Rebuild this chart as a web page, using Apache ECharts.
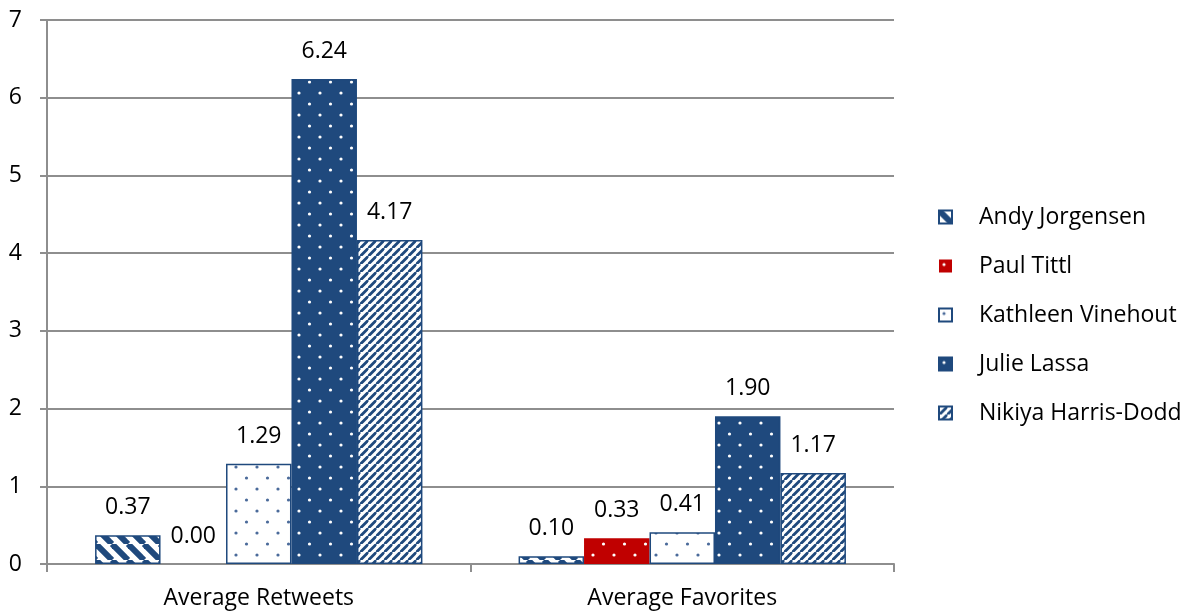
<!DOCTYPE html>
<html>
<head>
<meta charset="utf-8">
<script src="https://cdn.jsdelivr.net/npm/echarts@6/dist/echarts.min.js"></script>
<style>
  html, body { margin: 0; padding: 0; background: #fff; }
  #chart { width: 1188px; height: 611px; }
</style>
</head>
<body>
<div id="chart"></div>
<script>
// Tweet engagement per candidate
const categories = ['Average Retweets', 'Average Favorites'];
const candidates = ['Andy Jorgensen', 'Paul Tittl', 'Kathleen Vinehout', 'Julie Lassa', 'Nikiya Harris-Dodd'];
const andyJorgensen = [0.37, 0.10];
const paulTittl = [0.00, 0.33];
const kathleenVinehout = [1.29, 0.41];
const julieLassa = [6.24, 1.90];
const nikiyaHarrisDodd = [4.17, 1.17];
const yTicks = [0, 1, 2, 3, 4, 5, 6, 7];

const BLUE = '#1F497D';
const RED = '#C00000';
const FONT = 'Open Sans';

// Diagonal stripe tile: dir 'down' = "\\", 'up' = "//"
function stripes(period, lineW, fg, bg, dir) {
  const c = document.createElement('canvas');
  c.width = period; c.height = period;
  const g = c.getContext('2d');
  g.fillStyle = bg; g.fillRect(0, 0, period, period);
  g.strokeStyle = fg; g.lineWidth = lineW;
  for (let k = -1; k <= 1; k++) {
    g.beginPath();
    if (dir === 'down') { g.moveTo(k * period, 0); g.lineTo(k * period + period, period); }
    else { g.moveTo(k * period, period); g.lineTo(k * period + period, 0); }
    g.stroke();
  }
  return { image: c, repeat: 'repeat' };
}

// Staggered dot tile
function dots(fg, bg, r) {
  const w = 21, h = 22;
  const c = document.createElement('canvas');
  c.width = w; c.height = h;
  const g = c.getContext('2d');
  g.fillStyle = bg; g.fillRect(0, 0, w, h);
  g.fillStyle = fg;
  [[5, 5], [15.5, 16]].forEach(([x, y]) => {
    g.beginPath(); g.arc(x, y, r, 0, Math.PI * 2); g.fill();
  });
  return { image: c, repeat: 'repeat' };
}

const fills = [
  stripes(16, 6, BLUE, '#ffffff', 'down'),
  dots('#ffffff', RED, 1.6),
  dots('#4a6a9a', '#ffffff', 1.6),
  dots('#ffffff', BLUE, 1.6),
  stripes(8.5, 2.8, BLUE, '#ffffff', 'up')
];
const seriesData = [andyJorgensen, paulTittl, kathleenVinehout, julieLassa, nikiyaHarrisDodd];

const chart = echarts.init(document.getElementById('chart'), null, { renderer: 'canvas' });

chart.setOption({
  animation: false,
  backgroundColor: '#ffffff',
  textStyle: { fontFamily: FONT },
  grid: { left: 47, right: 294, top: 20, bottom: 47, containLabel: false },
  legend: {
    orient: 'vertical',
    left: 933,
    top: 197,
    itemWidth: 13,
    itemHeight: 13,
    itemGap: 19,
    icon: 'rect',
    data: candidates,
    formatter: name => '{s|}' + name,
    textStyle: {
      fontFamily: FONT, fontSize: 23, color: '#000', lineHeight: 30,
      rich: { s: { width: 22 } }
    }
  },
  xAxis: {
    type: 'category',
    data: categories,
    axisLine: { lineStyle: { color: '#8e8e8e', width: 2 } },
    axisTick: { show: true, length: 8, alignWithLabel: false, lineStyle: { color: '#8e8e8e', width: 2 } },
    axisLabel: { color: '#000', fontSize: 23, fontFamily: FONT, margin: 23 },
    splitLine: { show: false }
  },
  yAxis: {
    type: 'value',
    min: yTicks[0],
    max: yTicks[yTicks.length - 1],
    interval: 1,
    axisLine: { show: true, lineStyle: { color: '#8e8e8e', width: 2 } },
    axisTick: { show: true, length: 7, lineStyle: { color: '#8e8e8e', width: 2 } },
    axisLabel: { color: '#000', fontSize: 23, fontFamily: FONT, margin: 25 },
    splitLine: { show: true, lineStyle: { color: '#8e8e8e', width: 2 } }
  },
  series: candidates.map((name, i) => ({
    name: name,
    type: 'bar',
    data: seriesData[i],
    barGap: '0%',
    barCategoryGap: '22.7%',
    itemStyle: {
      color: fills[i],
      borderColor: i === 1 ? RED : BLUE,
      borderWidth: i === 1 ? 0 : 1.5
    },
    label: {
      show: true,
      position: 'top',
      distance: 16,
      color: '#000',
      fontSize: 23,
      fontFamily: FONT,
      formatter: p => p.value.toFixed(2)
    }
  }))
});
</script>
</body>
</html>
